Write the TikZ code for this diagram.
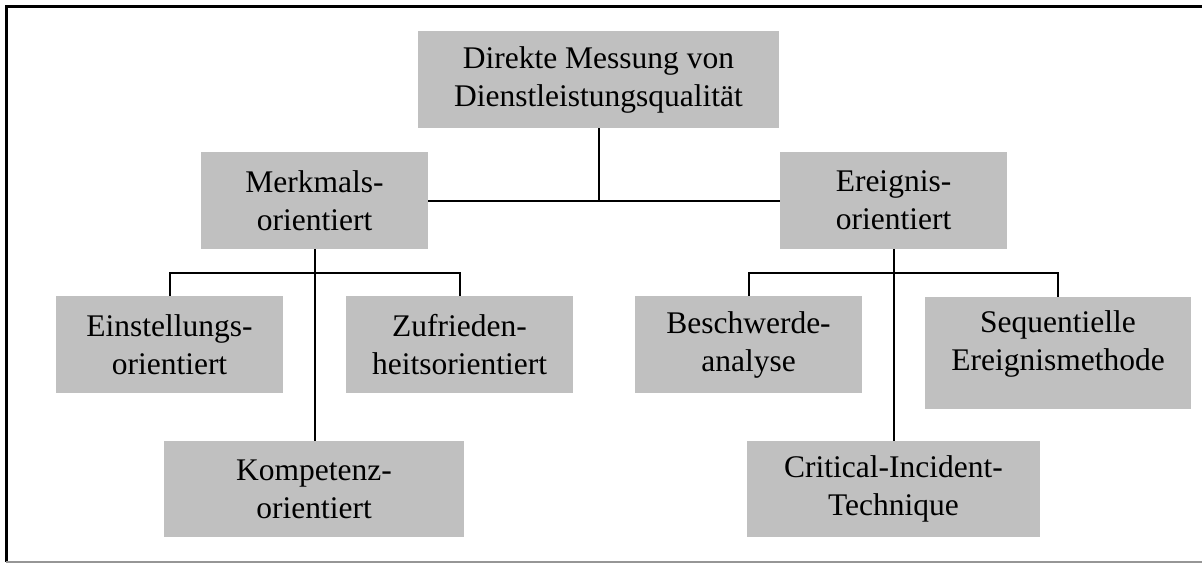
\documentclass[tikz,border=0pt]{standalone}
\usepackage{fontspec}
\setmainfont{Liberation Serif}
\usetikzlibrary{calc}
\definecolor{boxgray}{RGB}{192,192,192}
\definecolor{framegray}{RGB}{150,150,150}
\begin{document}
\begin{tikzpicture}[x=1pt,y=-1pt,
  box/.style={rectangle, fill=boxgray, inner sep=0pt, align=center,
    minimum width=227pt, minimum height=97pt,
    font=\fontsize{31.5}{38}\selectfont},
  conn/.style={line width=2pt, black}]
\useasboundingbox (0,0) rectangle (1202,563);
% frame
\draw[line width=3pt, black] (1202,6) -- (6,6) -- (6,562);
\draw[line width=1.5pt, framegray] (6,562) -- (1202,562);
% nodes
\node[box, minimum width=361pt] (top) at (598.5,79.5) {Direkte Messung von\\Dienstleistungsqualität};
\node[box] (merk) at (314.5,200.5) {Merkmals-\\orientiert};
\node[box] (ereig) at (893.5,200.5) {Ereignis-\\orientiert};
\node[box] (einst) at (169.5,344.5) {Einstellungs-\\orientiert};
\node[box] (zufr) at (459.5,344.5) {Zufrieden-\\heitsorientiert};
\node[box, minimum width=300pt, minimum height=96pt] (komp) at (314,489) {Kompetenz-\\orientiert};
\node[box] (besch) at (748.5,344.5) {Beschwerde-\\analyse};
\node[box, minimum width=266pt, minimum height=112pt] (seq) at (1058,353) {Sequentielle\\Ereignismethode\rule[-24pt]{0pt}{24pt}};
\node[box, minimum width=293pt, minimum height=96pt] (crit) at (893.5,489) {Critical-Incident-\\Technique};
% junctions
\coordinate (mj) at (314.5,273);
\coordinate (ej) at (893.5,273);
% connectors
\draw[conn] (top.south) -- (top.south |- merk.east);
\draw[conn] (merk.east) -- (ereig.west);
\draw[conn] (merk.south) -- (komp.north -| merk.south);
\draw[conn] (einst.north) |- (mj) -| (zufr.north);
\draw[conn] (ereig.south) -- (crit.north -| ereig.south);
\draw[conn] (besch.north) |- (ej) -| (seq.north);
\end{tikzpicture}
\end{document}
